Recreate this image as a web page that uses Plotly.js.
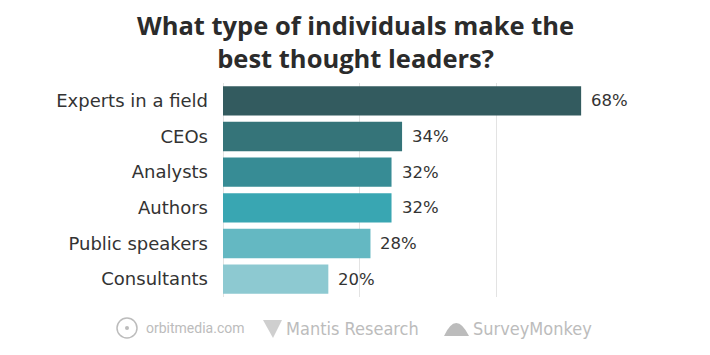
<!DOCTYPE html>
<html>
<head>
<meta charset="utf-8">
<script src="https://cdn.plot.ly/plotly-3.0.1.min.js"></script>
<style>html,body{margin:0;padding:0;background:#fff;}#chart{width:710px;height:355px;}</style>
</head>
<body>
<div id="chart"></div>
<script>
var categories = ["Experts in a field", "CEOs", "Analysts", "Authors", "Public speakers", "Consultants"];
var values = [68, 34, 32, 32, 28, 20];
var valueLabels = ["68%", "34%", "32%", "32%", "28%", "20%"];
var barColors = ["#335b5f", "#357479", "#378c95", "#39a6b2", "#64b8c2", "#8dc9d1"];
var titleText = "What type of individuals make the<br>best thought leaders?";
var sources = ["orbitmedia.com", "Mantis Research", "SurveyMonkey"];

var font = "DejaVu Sans, sans-serif";
var L = 223, W = 474, T = 83, H = 214;
function px(x) { return (x - L) / W; }
function py(y) { return (T + H - y) / H; }

var trace = {
  type: "bar",
  orientation: "h",
  x: values,
  y: categories,
  marker: {color: barColors},
  hoverinfo: "none"
};

var annotations = categories.map(function (c, i) {
  return {
    x: values[i], y: c, xref: "x", yref: "y",
    text: valueLabels[i], showarrow: false,
    xanchor: "left", yanchor: "middle", xshift: 8,
    font: {family: font, size: 16.5, color: "#333333"}
  };
});

annotations.push({xref: "paper", yref: "paper", x: px(355), y: py(41),
  xanchor: "center", yanchor: "middle", showarrow: false, text: "<b>" + titleText + "</b>",
  font: {family: "Open Sans, sans-serif", size: 25.5, color: "#2b2b2b", weight: 800}});

var gray = "#bcbcbc";
annotations.push({xref: "paper", yref: "paper", x: px(144), y: py(328), xanchor: "left", yanchor: "middle",
  text: sources[0], showarrow: false, font: {family: "Roboto, sans-serif", size: 14, color: gray}});
annotations.push({xref: "paper", yref: "paper", x: px(284), y: py(328), xanchor: "left", yanchor: "middle",
  text: sources[1], showarrow: false, font: {family: "DejaVu Sans Condensed, DejaVu Sans, sans-serif", size: 18, color: gray}});
annotations.push({xref: "paper", yref: "paper", x: px(471), y: py(328), xanchor: "left", yanchor: "middle",
  text: sources[2], showarrow: false, font: {family: "DejaVu Sans Condensed, DejaVu Sans, sans-serif", size: 18, color: gray}});

var layout = {
  width: 710, height: 355,
  margin: {l: L, r: 710 - L - W, t: T, b: 355 - T - H},
  paper_bgcolor: "#ffffff", plot_bgcolor: "#ffffff",
  showlegend: false,
  bargap: 0.176,
  xaxis: {
    range: [0, 90],
    tickvals: [0, 26, 52],
    showticklabels: false,
    showgrid: true, gridcolor: "#e3e3e3", gridwidth: 1,
    zeroline: true, zerolinecolor: "#e3e3e3", zerolinewidth: 1,
    showline: false, fixedrange: true
  },
  yaxis: {
    autorange: "reversed",
    ticks: "", ticklabelstandoff: 14,
    tickfont: {family: font, size: 18, color: "#333333"},
    showgrid: false, zeroline: false, showline: false, fixedrange: true
  },
  annotations: annotations,
  shapes: [
    {type: "circle", xref: "paper", yref: "paper",
     x0: px(117), x1: px(137), y0: py(338), y1: py(318),
     line: {color: gray, width: 1.5}},
    {type: "circle", xref: "paper", yref: "paper",
     x0: px(125), x1: px(129), y0: py(330), y1: py(326),
     fillcolor: gray, line: {width: 0}},
    {type: "path", xref: "paper", yref: "paper",
     path: "M " + px(263) + " " + py(320) + " L " + px(282) + " " + py(320) + " L " + px(273) + " " + py(338) + " Z",
     fillcolor: "#cfcfcf", line: {width: 0}},
    {type: "path", xref: "paper", yref: "paper",
     path: "M " + px(444) + " " + py(336) + " Q " + px(456) + " " + py(310) + " " + px(469) + " " + py(336) + " Z",
     fillcolor: gray, line: {width: 0}}
  ]
};

Plotly.newPlot("chart", [trace], layout, {displayModeBar: false, staticPlot: true});
</script>
</body>
</html>
